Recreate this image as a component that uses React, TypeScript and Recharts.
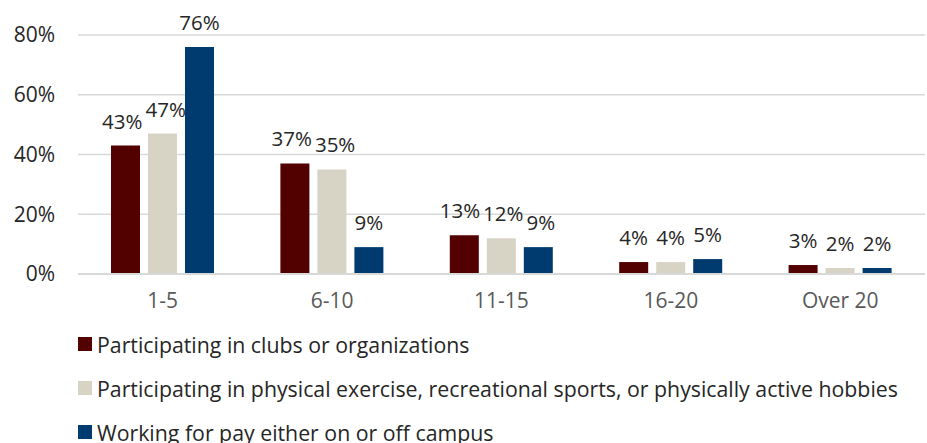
import React from 'react';
import { BarChart, Bar, XAxis, YAxis, CartesianGrid, Legend, LabelList } from 'recharts';

const categories = ['1-5', '6-10', '11-15', '16-20', 'Over 20'];
const clubs = [43, 37, 13, 4, 3];
const exercise = [47, 35, 12, 4, 2];
const working = [76, 9, 9, 5, 2];
const yTicks = [0, 20, 40, 60, 80];

const series = [
    { key: 'clubs', name: 'Participating in clubs or organizations', color: '#520000', values: clubs },
    { key: 'exercise', name: 'Participating in physical exercise, recreational sports, or physically active hobbies', color: '#d7d3c5', values: exercise },
    { key: 'working', name: 'Working for pay either on or off campus', color: '#003b6f', values: working },
];

const data = categories.map((name, i) => ({
    name,
    clubs: clubs[i],
    exercise: exercise[i],
    working: working[i],
}));

const FONT = '"Open Sans", sans-serif';
const LABEL_SIZE = 20.5;
const BAR_SIZE = 29;
const BAR_GAP = 8;
const PX_PER_UNIT = 3; // plot is 240px tall for 80 units

// rough text width for "NN%" labels
const labelWidth = (v: number) => (String(v).length * 0.572 + 0.827) * LABEL_SIZE;

// nudge labels sideways in a group when they would collide
const labelShift = (seriesIdx: number, catIdx: number) => {
    const vals = series.map((s) => s.values[catIdx]);
    const pitch = BAR_SIZE + BAR_GAP;
    const centers = vals.map((_, i) => (i - 1) * pitch);
    for (let pass = 0; pass < 3; pass++) {
        for (let i = 0; i < vals.length - 1; i++) {
            if (Math.abs(vals[i] - vals[i + 1]) * PX_PER_UNIT >= LABEL_SIZE) continue;
            const need = (labelWidth(vals[i]) + labelWidth(vals[i + 1])) / 2 + 3;
            const overlap = need - (centers[i + 1] - centers[i]);
            if (overlap > 0) {
                centers[i] -= overlap / 2;
                centers[i + 1] += overlap / 2;
            }
        }
    }
    return centers[seriesIdx] - (seriesIdx - 1) * pitch;
};

const makeLabel = (seriesIdx: number) => (props: any) => {
    const { x, y, width, value, index } = props;
    const cx = Number(x) + Number(width) / 2 + labelShift(seriesIdx, index);
    return (
        <text
            x={cx}
            y={Number(y) - 17}
            textAnchor="middle"
            fill="#262626"
            fontSize={LABEL_SIZE}
            fontFamily={FONT}
        >
            {`${value}%`}
        </text>
    );
};

const LegendBox = () => (
    <div style={{ height: 129, paddingTop: 8, paddingLeft: 78, boxSizing: 'border-box', fontFamily: FONT }}>
        {series.map((s) => (
            <div key={s.key} style={{ height: 44, display: 'flex', alignItems: 'center' }}>
                <span style={{ width: 14, height: 14, background: s.color, marginRight: 5, flex: 'none' }} />
                <span style={{ fontSize: 21.3, color: '#262626', whiteSpace: 'nowrap' }}>{s.name}</span>
            </div>
        ))}
    </div>
);

const App: React.FC = () => {
    return (
        <div style={{ position: 'absolute', left: 0, top: 0, background: '#fff' }}>
            <BarChart
                width={927}
                height={443}
                data={data}
                margin={{ top: 35, right: 2, left: 0, bottom: 0 }}
                barSize={BAR_SIZE}
                barGap={BAR_GAP}
            >
                <CartesianGrid vertical={false} stroke="#d9d9d9" strokeWidth={1.5} />
                <XAxis
                    dataKey="name"
                    height={40}
                    axisLine={{ stroke: '#d9d9d9', strokeWidth: 2 }}
                    tickLine={false}
                    tickSize={0}
                    tickMargin={19}
                    tick={{ fill: '#595959', fontSize: 21, fontFamily: FONT }}
                />
                <YAxis
                    width={78}
                    domain={[0, 80]}
                    ticks={yTicks}
                    tickFormatter={(v: number) => `${v}%`}
                    axisLine={false}
                    tickLine={false}
                    tickSize={0}
                    tickMargin={23}
                    tick={{ fill: '#262626', fontSize: 21, fontFamily: FONT }}
                />
                <Legend verticalAlign="bottom" align="left" content={<LegendBox />} wrapperStyle={{ left: 0, width: 927 }} />
                {series.map((s, si) => (
                    <Bar key={s.key} dataKey={s.key} name={s.name} fill={s.color} isAnimationActive={false}>
                        <LabelList dataKey={s.key} content={makeLabel(si)} />
                    </Bar>
                ))}
            </BarChart>
        </div>
    );
};

export default App;
